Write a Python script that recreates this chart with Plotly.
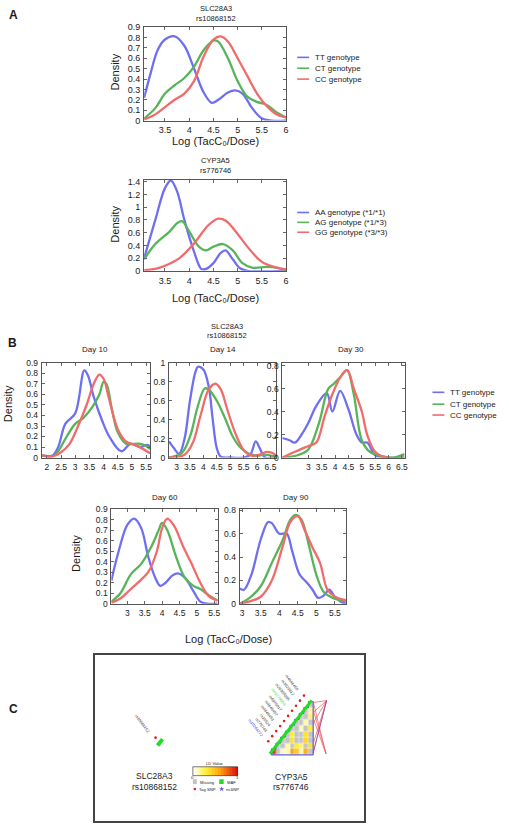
import plotly.graph_objects as go

W, H = 509, 836

# ---------------- DATA ----------------
GENO_SLC = ["TT genotype", "CT genotype", "CC genotype"]
GENO_CYP = ["AA genotype (*1/*1)", "AG genotype (*1/*3)", "GG genotype (*3/*3)"]

# Panel A, SLC28A3 rs10868152
A1_TT_x = [3.07, 3.2, 3.35, 3.5, 3.7, 3.9, 4.1, 4.3, 4.47, 4.6, 4.8, 4.95, 5.1, 5.3, 5.5, 5.7, 6.0]
A1_TT_y = [0.22, 0.45, 0.68, 0.78, 0.81, 0.72, 0.5, 0.27, 0.17, 0.2, 0.27, 0.29, 0.26, 0.12, 0.02, 0.0, 0.0]
A1_CT_x = [3.07, 3.3, 3.5, 3.7, 3.9, 4.1, 4.3, 4.5, 4.6, 4.8, 5.0, 5.2, 5.4, 5.6, 5.8, 6.0]
A1_CT_y = [0.02, 0.12, 0.26, 0.34, 0.41, 0.52, 0.68, 0.77, 0.76, 0.6, 0.38, 0.23, 0.18, 0.15, 0.08, 0.03]
A1_CC_x = [3.07, 3.3, 3.5, 3.7, 3.9, 4.1, 4.3, 4.5, 4.65, 4.8, 5.0, 5.2, 5.4, 5.6, 5.8, 6.0]
A1_CC_y = [0.01, 0.06, 0.13, 0.2, 0.26, 0.38, 0.62, 0.78, 0.81, 0.76, 0.6, 0.43, 0.26, 0.14, 0.06, 0.03]

# Panel A, CYP3A5 rs776746
A2_AA_x = [3.07, 3.3, 3.5, 3.62, 3.75, 3.9, 4.1, 4.25, 4.35, 4.5, 4.65, 4.75, 4.9, 5.05, 5.2, 6.0]
A2_AA_y = [0.2, 0.8, 1.3, 1.42, 1.25, 0.8, 0.3, 0.03, 0.03, 0.12, 0.28, 0.32, 0.18, 0.04, 0.0, 0.0]
A2_AG_x = [3.07, 3.3, 3.6, 3.75, 3.85, 4.0, 4.2, 4.35, 4.5, 4.7, 4.9, 5.1, 5.3, 5.6, 5.8, 6.0]
A2_AG_y = [0.18, 0.42, 0.62, 0.75, 0.78, 0.62, 0.38, 0.32, 0.38, 0.42, 0.32, 0.12, 0.05, 0.06, 0.05, 0.01]
A2_GG_x = [3.07, 3.3, 3.5, 3.8, 4.1, 4.4, 4.6, 4.75, 5.0, 5.2, 5.5, 5.8, 6.0]
A2_GG_y = [0.01, 0.03, 0.08, 0.2, 0.43, 0.72, 0.82, 0.79, 0.58, 0.38, 0.14, 0.05, 0.02]

# Panel B, Day 10
D10_TT_x = [1.82, 2.2, 2.4, 2.65, 3.0, 3.32, 3.45, 3.65, 3.95, 4.2, 4.62, 4.95, 5.3, 5.55, 5.64]
D10_TT_y = [0.02, 0.02, 0.1, 0.32, 0.42, 0.83, 0.78, 0.58, 0.35, 0.2, 0.06, 0.13, 0.1, 0.12, 0.1]
D10_CT_x = [1.82, 2.2, 2.4, 2.7, 3.0, 3.3, 3.6, 3.85, 4.0, 4.1, 4.3, 4.5, 4.8, 5.0, 5.3, 5.5, 5.64]
D10_CT_y = [0.02, 0.01, 0.06, 0.2, 0.32, 0.38, 0.48, 0.6, 0.72, 0.7, 0.45, 0.24, 0.13, 0.13, 0.13, 0.11, 0.08]
D10_CC_x = [1.82, 2.2, 2.5, 2.8, 3.1, 3.4, 3.65, 3.85, 4.0, 4.2, 4.5, 4.8, 5.1, 5.4, 5.64]
D10_CC_y = [0.02, 0.01, 0.05, 0.13, 0.3, 0.5, 0.7, 0.79, 0.75, 0.55, 0.27, 0.15, 0.12, 0.08, 0.04]

# Panel B, Day 14
D14_TT_x = [2.72, 2.9, 3.1, 3.3, 3.5, 3.7, 3.8, 4.0, 4.2, 4.35, 4.5, 4.65, 5.0, 5.5, 5.75, 5.95, 6.1, 6.3, 6.72]
D14_TT_y = [0.17, 0.1, 0.04, 0.2, 0.6, 0.9, 0.96, 0.93, 0.75, 0.4, 0.1, 0.01, 0.0, 0.0, 0.03, 0.17, 0.1, 0.0, 0.0]
D14_CT_x = [2.72, 3.2, 3.5, 3.8, 4.05, 4.2, 4.5, 4.8, 5.1, 5.4, 5.7, 6.0, 6.3, 6.5, 6.72]
D14_CT_y = [0.0, 0.05, 0.22, 0.55, 0.73, 0.72, 0.6, 0.42, 0.22, 0.1, 0.04, 0.02, 0.03, 0.02, 0.01]
D14_CC_x = [2.72, 3.3, 3.6, 3.9, 4.2, 4.45, 4.65, 4.9, 5.2, 5.5, 5.8, 6.1, 6.35, 6.55, 6.72]
D14_CC_y = [0.0, 0.03, 0.15, 0.45, 0.72, 0.78, 0.72, 0.5, 0.25, 0.08, 0.02, 0.03, 0.06, 0.05, 0.02]

# Panel B, Day 30
D30_TT_x = [2.03, 2.3, 2.5, 2.75, 3.0, 3.3, 3.69, 3.9, 4.19, 4.5, 4.8, 5.0, 5.2, 5.5, 5.8, 6.6]
D30_TT_y = [0.17, 0.15, 0.13, 0.2, 0.3, 0.45, 0.56, 0.4, 0.58, 0.42, 0.2, 0.13, 0.13, 0.02, 0.0, 0.0]
D30_CT_x = [2.03, 2.6, 3.0, 3.4, 3.75, 3.95, 4.2, 4.45, 4.7, 5.0, 5.3, 5.8, 6.2, 6.6]
D30_CT_y = [0.0, 0.02, 0.07, 0.3, 0.6, 0.64, 0.7, 0.76, 0.55, 0.15, 0.05, 0.01, 0.0, 0.03]
D30_CC_x = [2.03, 2.5, 3.0, 3.3, 3.6, 3.9, 4.2, 4.45, 4.7, 5.0, 5.2, 5.5, 5.9, 6.6]
D30_CC_y = [0.0, 0.05, 0.1, 0.13, 0.35, 0.55, 0.7, 0.76, 0.6, 0.4, 0.2, 0.05, 0.0, 0.0]

# Panel B, Day 60
D60_TT_x = [2.54, 2.75, 3.0, 3.2, 3.4, 3.6, 3.8, 3.95, 4.1, 4.3, 4.45, 4.65, 4.9, 5.1, 5.3, 5.6]
D60_TT_y = [0.22, 0.5, 0.75, 0.81, 0.72, 0.45, 0.25, 0.17, 0.2, 0.27, 0.29, 0.25, 0.12, 0.02, 0.0, 0.0]
D60_CT_x = [2.54, 2.8, 3.1, 3.4, 3.7, 3.9, 4.0, 4.15, 4.4, 4.65, 4.9, 5.1, 5.35, 5.6]
D60_CT_y = [0.02, 0.1, 0.28, 0.38, 0.55, 0.7, 0.77, 0.7, 0.45, 0.25, 0.17, 0.14, 0.08, 0.03]
D60_CC_x = [2.54, 2.8, 3.1, 3.4, 3.6, 3.85, 4.0, 4.15, 4.35, 4.6, 4.85, 5.1, 5.35, 5.6]
D60_CC_y = [0.01, 0.05, 0.14, 0.23, 0.3, 0.5, 0.72, 0.81, 0.74, 0.55, 0.38, 0.2, 0.07, 0.03]

# Panel B, Day 90
D90_TT_x = [2.93, 3.05, 3.25, 3.5, 3.7, 3.8, 4.0, 4.2, 4.35, 4.55, 4.75, 4.9, 5.05, 5.2, 5.35, 5.5, 5.65, 5.8]
D90_TT_y = [0.13, 0.12, 0.25, 0.55, 0.7, 0.69, 0.6, 0.6, 0.45, 0.25, 0.18, 0.12, 0.05, 0.07, 0.12, 0.06, 0.02, 0.0]
D90_CT_x = [2.93, 3.2, 3.5, 3.8, 4.1, 4.3, 4.45, 4.6, 4.8, 5.0, 5.2, 5.45, 5.8]
D90_CT_y = [0.0, 0.05, 0.15, 0.35, 0.55, 0.72, 0.76, 0.72, 0.5, 0.25, 0.1, 0.05, 0.02]
D90_CC_x = [2.93, 3.2, 3.5, 3.8, 4.1, 4.3, 4.5, 4.7, 4.9, 5.1, 5.3, 5.5, 5.8]
D90_CC_y = [0.0, 0.02, 0.06, 0.2, 0.5, 0.7, 0.75, 0.62, 0.48, 0.35, 0.12, 0.06, 0.03]

# Panel C, LD plot
SLC_SNPS = ["rs10868152"]
CYP_SNPS = ["rs10264272", "rs776746", "rs15524", "rs4646453", "rs4646457",
            "rs6976017", "rs41279854", "rs28365085", "rs3823812", "rs4646450"]
# LD rows from bottom (marker i) with pairs (i, j>i); None = missing
CYP_LD = [
    [0.9, None, 0.08, 0.1, 0.6, 0.45, 0.12, 0.55, None],
    [None, None, 0.12, None, 0.3, 0.2, None, 0.35],
    [None, None, 0.35, None, None, 0.4, None],
    [None, 0.3, None, None, 0.35, None],
    [None, None, 0.1, None, 0.3],
    [None, None, 0.12, None],
    [None, None, 0.2],
    [None, 0.15],
    [None],
]
LD_LEGEND_TEXT = ["LD Value", "0", "1", "Missing", "MAF", "Tag SNP", "nsSNP"]

# ---------------- STYLE ----------------
BLUE, GREEN, RED = "#6f6ff2", "#58b458", "#f26b6b"
COLORS = [BLUE, GREEN, RED]
FONT = "Liberation Sans"
TXT = "#1a1a1a"


def fx(p):
    return p / W


def fy(p):
    return 1 - p / H


fig = go.Figure()
layout = {}
annotations = []
shapes = []

panels = [
    (1, 145, 288, 22, 117, [3.07, 6.005], [3.5, 4, 4.5, 5, 5.5, 6], [0, 0.903],
     [0, .1, .2, .3, .4, .5, .6, .7, .8, .9],
     [(A1_TT_x, A1_TT_y), (A1_CT_x, A1_CT_y), (A1_CC_x, A1_CC_y)], 9),
    (2, 145, 288, 177, 269, [3.07, 6.005], [3.5, 4, 4.5, 5, 5.5, 6], [0, 1.43],
     [0, .2, .4, .6, .8, 1, 1.2, 1.4],
     [(A2_AA_x, A2_AA_y), (A2_AG_x, A2_AG_y), (A2_GG_x, A2_GG_y)], 9),
    (3, 42, 151, 362, 458, [1.82, 5.64], [2, 2.5, 3, 3.5, 4, 4.5, 5, 5.5], [0, 0.903],
     [0, .1, .2, .3, .4, .5, .6, .7, .8, .9],
     [(D10_TT_x, D10_TT_y), (D10_CT_x, D10_CT_y), (D10_CC_x, D10_CC_y)], 8.5),
    (4, 170, 278, 362, 458, [2.72, 6.72], [3, 3.5, 4, 4.5, 5, 5.5, 6, 6.5], [0, 1.003],
     [0, .2, .4, .6, .8, 1],
     [(D14_TT_x, D14_TT_y), (D14_CT_x, D14_CT_y), (D14_CC_x, D14_CC_y)], 8.5),
    (5, 284, 407, 362, 458, [2.03, 6.6], [3, 3.5, 4, 4.5, 5, 5.5, 6, 6.5], [0, 0.825],
     [0, .2, .4, .6, .8],
     [(D30_TT_x, D30_TT_y), (D30_CT_x, D30_CT_y), (D30_CC_x, D30_CC_y)], 8.5),
    (6, 112, 219, 510, 606, [2.54, 5.6], [3, 3.5, 4, 4.5, 5, 5.5], [0, 0.903],
     [0, .1, .2, .3, .4, .5, .6, .7, .8, .9],
     [(D60_TT_x, D60_TT_y), (D60_CT_x, D60_CT_y), (D60_CC_x, D60_CC_y)], 8.5),
    (7, 241, 348, 510, 606, [2.93, 5.8], [3, 3.5, 4, 4.5, 5, 5.5], [0, 0.812],
     [0, .2, .4, .6, .8],
     [(D90_TT_x, D90_TT_y), (D90_CT_x, D90_CT_y), (D90_CC_x, D90_CC_y)], 8.5),
]

for pid, l, r, t, b, xr, xt, yr, yt, series, fs in panels:
    xa = "xaxis" if pid == 1 else f"xaxis{pid}"
    ya = "yaxis" if pid == 1 else f"yaxis{pid}"
    xref = "x" if pid == 1 else f"x{pid}"
    yref = "y" if pid == 1 else f"y{pid}"
    common = dict(showline=True, linecolor="#555", linewidth=1, mirror="ticks",
                  ticks="inside", ticklen=3, tickcolor="#666", showgrid=False,
                  zeroline=False, tickfont=dict(family=FONT, size=fs, color=TXT),
                  tickmode="array", fixedrange=True)
    layout[xa] = dict(common, domain=[fx(l), fx(r)], range=xr, tickvals=xt,
                      ticktext=[f"{v:g}" for v in xt], anchor=yref, ticklabelstandoff=1)
    layout[ya] = dict(common, domain=[fy(b), fy(t)], range=yr, tickvals=yt,
                      ticktext=[f"{v:g}" for v in yt], anchor=xref, ticklabelstandoff=1)
    for (xs, ys), c in zip(series, COLORS):
        fig.add_trace(go.Scatter(x=xs, y=ys, mode="lines", xaxis=xref, yaxis=yref,
                                 line=dict(color=c, width=2.3, shape="spline", smoothing=1.0),
                                 showlegend=False, hoverinfo="skip", cliponaxis=True))


def text(x, y, s, size, bold=False, angle=0, xanchor="center", yanchor="middle", color=TXT, ref="paper"):
    if ref == "paper":
        d = dict(x=fx(x), y=fy(y), xref="paper", yref="paper")
    else:
        d = dict(x=x, y=y, xref=ref[0], yref=ref[1])
    d.update(text=f"<b>{s}</b>" if bold else s, showarrow=False, textangle=angle,
             xanchor=xanchor, yanchor=yanchor,
             font=dict(family=FONT, size=size, color=color))
    annotations.append(d)


XT = "Log (TacC\u2080/Dose)"
text(14, 10, "A", 12, bold=True)
text(13, 342, "B", 12, bold=True)
text(14, 713, "C", 12, bold=True)
text(217, 4, "SLC28A3", 7.5)
text(217, 14, "rs10868152", 7.5)
text(217, 157, "CYP3A5", 7.5)
text(217, 167, "rs776746", 7.5)
text(217, 138, XT, 11)
text(217, 297, XT, 11)
text(116, 68, "Density", 11, angle=-90)
text(116, 222, "Density", 11, angle=-90)
text(228, 325, "SLC28A3", 7.5)
text(228, 334, "rs10868152", 7.5)
for x, s in [(96, "Day 10"), (224, "Day 14"), (353, "Day 30")]:
    text(x, 349, s, 8)
for x, s in [(166, "Day 60"), (298, "Day 90")]:
    text(x, 498, s, 8)
text(8, 403, "Density", 11, angle=-90)
text(77, 555, "Density", 11, angle=-90)
text(230, 642, XT, 11)


def legend(x0, ys, labels):
    for y, lab, c in zip(ys, labels, COLORS):
        shapes.append(dict(type="line", xref="paper", yref="paper", x0=fx(x0), x1=fx(x0 + 12),
                           y0=fy(y), y1=fy(y), line=dict(color=c, width=1.6)))
        text(x0 + 16, y, lab, 8, xanchor="left")


legend(299, [53, 64, 75], GENO_SLC)
legend(299, [210, 220, 230], GENO_CYP)
legend(435, [392, 404, 415], GENO_SLC)

# ---------------- Panel C ----------------
CX, CY = "x8", "y8"
layout["xaxis8"] = dict(domain=[fx(96), fx(366)], range=[96, 366], showline=True, mirror=True,
                        linecolor="#444", linewidth=1.5, showticklabels=False, ticks="",
                        showgrid=False, zeroline=False, anchor="y8", fixedrange=True)
layout["yaxis8"] = dict(domain=[fy(826), fy(658)], range=[826, 658], showline=True, mirror=True,
                        linecolor="#444", linewidth=1.5, showticklabels=False, ticks="",
                        showgrid=False, zeroline=False, anchor="x8", fixedrange=True)

LD_SCALE = [[0, "#c4c4c4"], [0.09, "#c4c4c4"], [0.0909, "#ffffff"], [0.36, "#ffef30"],
            [0.65, "#ffa010"], [1, "#e01010"]]
n = len(CYP_SNPS)
X0, Y0, TW, TH = 273.0, 759.0, 42.0, 54.0
cw, ch = TW / (n - 1), TH / (n - 1)
zmat = []
for r in range(n - 1):
    row = []
    for c in range(n - 1):
        if c < r:
            row.append(None)
        else:
            v = CYP_LD[r][c - r]
            row.append(-0.1 if v is None else v)
    zmat.append(row)
fig.add_trace(go.Heatmap(z=zmat, x=[X0 + (c + 0.5) * cw for c in range(n - 1)],
                         y=[Y0 - (r + 0.5) * ch for r in range(n - 1)],
                         colorscale=LD_SCALE, zmin=-0.1, zmax=1, showscale=False,
                         xaxis=CX, yaxis=CY, hoverinfo="skip", xgap=0.4, ygap=0.4))
sx, sy = [X0], [Y0]
for k in range(n - 1):
    sx += [X0 + k * cw, X0 + (k + 1) * cw]
    sy += [Y0 - (k + 1) * ch, Y0 - (k + 1) * ch]
fig.add_trace(go.Scatter(x=sx + [X0 + TW, X0], y=sy + [Y0, Y0], mode="lines", xaxis=CX, yaxis=CY,
                         line=dict(color="#3b3bd8", width=1), showlegend=False, hoverinfo="skip"))
fig.add_trace(go.Scatter(x=[X0 - 1.5, X0 + TW - 1.5], y=[Y0 - 1.2, Y0 - TH - 1.2], mode="lines",
                         xaxis=CX, yaxis=CY, line=dict(color="#22dd22", width=3),
                         showlegend=False, hoverinfo="skip"))
apT, apB = (328.5, 704.0), (328.0, 758.0)
for yy in [706, 716, 727, 748, 757]:
    fig.add_trace(go.Scatter(x=[X0 + TW, apT[0]], y=[yy, apT[1]], mode="lines", xaxis=CX, yaxis=CY,
                             line=dict(color="#ee5555", width=0.7), showlegend=False, hoverinfo="skip"))
for yy in [705, 713, 722]:
    fig.add_trace(go.Scatter(x=[X0 + TW, apB[0]], y=[yy, apB[1]], mode="lines", xaxis=CX, yaxis=CY,
                             line=dict(color="#ee5555", width=0.7), showlegend=False, hoverinfo="skip"))
fig.add_trace(go.Scatter(x=[X0 + TW, apT[0]], y=[757, apT[1]], mode="lines", xaxis=CX, yaxis=CY,
                         line=dict(color="#7744cc", width=0.7), showlegend=False, hoverinfo="skip"))

ux, uy = TW / 68.4, -TH / 68.4
px_, py_ = -0.789, -0.614
dots_x, dots_y = [], []
for k, name in enumerate(CYP_SNPS):
    a = 9 + k * 6.5
    dx = X0 + ux * a + px_ * 11
    dy = Y0 + uy * a + py_ * 11
    dots_x.append(dx)
    dots_y.append(dy)
    col = "#3333dd" if k == 0 else ("#33dd33" if k == 6 else "#333333")
    text(dx - 1.2, dy - 0.5, name, 4, angle=52, xanchor="right", yanchor="bottom",
         color=col, ref=(CX, CY))
fig.add_trace(go.Scatter(x=dots_x, y=dots_y, mode="markers", xaxis=CX, yaxis=CY,
                         marker=dict(color="#e02020", size=2.6), showlegend=False, hoverinfo="skip"))

text(155, 740, SLC_SNPS[0], 4, angle=52, xanchor="right", yanchor="bottom", color="#333333", ref=(CX, CY))
fig.add_trace(go.Scatter(x=[156.5], y=[741.5], mode="markers", xaxis=CX, yaxis=CY,
                         marker=dict(color="#e02020", size=2.6), showlegend=False, hoverinfo="skip"))
fig.add_trace(go.Scatter(x=[158.5, 163.5], y=[749.5, 743], mode="lines", xaxis=CX, yaxis=CY,
                         line=dict(color="#22dd22", width=4), showlegend=False, hoverinfo="skip"))

text(155, 780, "SLC28A3", 8.5, ref=(CX, CY))
text(155, 791, "rs10868152", 8.5, ref=(CX, CY))
text(293, 781, "CYP3A5", 8.5, ref=(CX, CY))
text(293, 791, "rs776746", 8.5, ref=(CX, CY))

# LD legend
text(216, 767.5, LD_LEGEND_TEXT[0], 4.2, ref=(CX, CY))
grad = [i / 29 for i in range(30)]
fig.add_trace(go.Heatmap(z=[grad, grad], x=[194.75 + i * 1.5 for i in range(30)], y=[773.25, 777.75],
                         colorscale=LD_SCALE, zmin=-0.1, zmax=1, showscale=False,
                         xaxis=CX, yaxis=CY, hoverinfo="skip"))
shapes.append(dict(type="rect", xref=CX, yref=CY, x0=194, x1=239, y0=771, y1=780,
                   line=dict(color="#222", width=0.6)))
text(194, 782.2, LD_LEGEND_TEXT[1], 4.2, ref=(CX, CY))
text(239, 782.2, LD_LEGEND_TEXT[2], 4.2, ref=(CX, CY))
shapes.append(dict(type="rect", xref=CX, yref=CY, x0=194, x1=198, y0=783.5, y1=788.5,
                   fillcolor="#c4c4c4", line=dict(width=0)))
text(199.5, 786.5, LD_LEGEND_TEXT[3], 4.2, xanchor="left", ref=(CX, CY))
shapes.append(dict(type="rect", xref=CX, yref=CY, x0=220.5, x1=225, y0=783.5, y1=788.5,
                   fillcolor="#22dd22", line=dict(width=0)))
text(226.5, 786.5, LD_LEGEND_TEXT[4], 4.2, xanchor="left", ref=(CX, CY))
fig.add_trace(go.Scatter(x=[196], y=[793.5], mode="markers", xaxis=CX, yaxis=CY,
                         marker=dict(color="#e02020", size=2.6), showlegend=False, hoverinfo="skip"))
text(198.5, 793.5, LD_LEGEND_TEXT[5], 4.2, xanchor="left", ref=(CX, CY))
fig.add_trace(go.Scatter(x=[223], y=[793.5], mode="markers", xaxis=CX, yaxis=CY,
                         marker=dict(color="#5555ee", size=4, symbol="star"), showlegend=False,
                         hoverinfo="skip"))
text(225.5, 793.5, LD_LEGEND_TEXT[6], 4.2, xanchor="left", ref=(CX, CY))

fig.update_layout(width=W, height=H, margin=dict(l=0, r=0, t=0, b=0),
                  paper_bgcolor="white", plot_bgcolor="white", showlegend=False,
                  annotations=annotations, shapes=shapes, **layout)
fig.write_html("out.html")
